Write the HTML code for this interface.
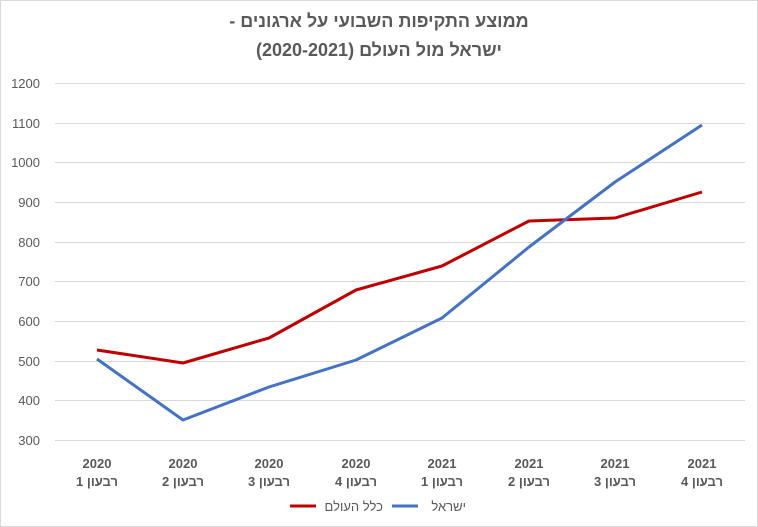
<!DOCTYPE html>
<html><head><meta charset="utf-8"><style>
html,body{margin:0;padding:0;background:#fff;}
svg{display:block;font-family:"Liberation Sans","Noto Sans CJK SC",sans-serif;}
</style></head><body>
<svg width="758" height="527" viewBox="0 0 758 527" xmlns="http://www.w3.org/2000/svg">
<rect x="0.5" y="0.5" width="757" height="526" fill="#fff" stroke="#d9d9d9"/>
<g fill="#595959" font-weight="bold" font-size="18" text-anchor="middle" direction="rtl">
<text x="379" y="27">ממוצע התקיפות השבועי על ארגונים -</text>
<text x="379" y="56">ישראל מול העולם (2020-2021)</text>
</g>
<g stroke="#d9d9d9" stroke-width="1">
<line x1="55" x2="745" y1="83.5" y2="83.5"/>
<line x1="55" x2="745" y1="123.5" y2="123.5"/>
<line x1="55" x2="745" y1="162.5" y2="162.5"/>
<line x1="55" x2="745" y1="202.5" y2="202.5"/>
<line x1="55" x2="745" y1="242.5" y2="242.5"/>
<line x1="55" x2="745" y1="281.5" y2="281.5"/>
<line x1="55" x2="745" y1="321.5" y2="321.5"/>
<line x1="55" x2="745" y1="361.5" y2="361.5"/>
<line x1="55" x2="745" y1="400.5" y2="400.5"/>
<line x1="55" x2="745" y1="440.5" y2="440.5"/>
</g>
<g fill="#595959" font-size="13" text-anchor="end">
<text x="40" y="88">1200</text><text x="40" y="128">1100</text><text x="40" y="167">1000</text>
<text x="40" y="207">900</text><text x="40" y="247">800</text><text x="40" y="286">700</text>
<text x="40" y="326">600</text><text x="40" y="366">500</text><text x="40" y="405">400</text>
<text x="40" y="445">300</text>
</g>
<g fill="#595959" font-size="13" font-weight="bold" text-anchor="middle">
<text x="97" y="468">2020</text><text x="183" y="468">2020</text><text x="269" y="468">2020</text><text x="356" y="468">2020</text>
<text x="442" y="468">2021</text><text x="529" y="468">2021</text><text x="615" y="468">2021</text><text x="702" y="468">2021</text>
</g>
<g fill="#595959" font-size="13" font-weight="bold" text-anchor="middle" direction="rtl">
<text x="97" y="486">רבעון 1</text><text x="183" y="486">רבעון 2</text><text x="269" y="486">רבעון 3</text><text x="356" y="486">רבעון 4</text>
<text x="442" y="486">רבעון 1</text><text x="529" y="486">רבעון 2</text><text x="615" y="486">רבעון 3</text><text x="702" y="486">רבעון 4</text>
</g>
<polyline fill="none" stroke="#c00000" stroke-width="3" stroke-linejoin="round"
points="97,350 183,363 269,338 356,290 442,266 529,221 615,218 702,192"/>
<polyline fill="none" stroke="#4472c4" stroke-width="3" stroke-linejoin="round"
points="97,359 183,420 269,387 356,360 442,318 529,247 615,182 702,125"/>
<line x1="290" x2="316" y1="506" y2="506" stroke="#c00000" stroke-width="3"/>
<text x="383" y="511" fill="#595959" font-size="13" text-anchor="start" direction="rtl">כלל העולם</text>
<line x1="392" x2="418" y1="506" y2="506" stroke="#4472c4" stroke-width="3"/>
<text x="466" y="511" fill="#595959" font-size="13" text-anchor="start" direction="rtl">ישראל</text>
</svg>
</body></html>
